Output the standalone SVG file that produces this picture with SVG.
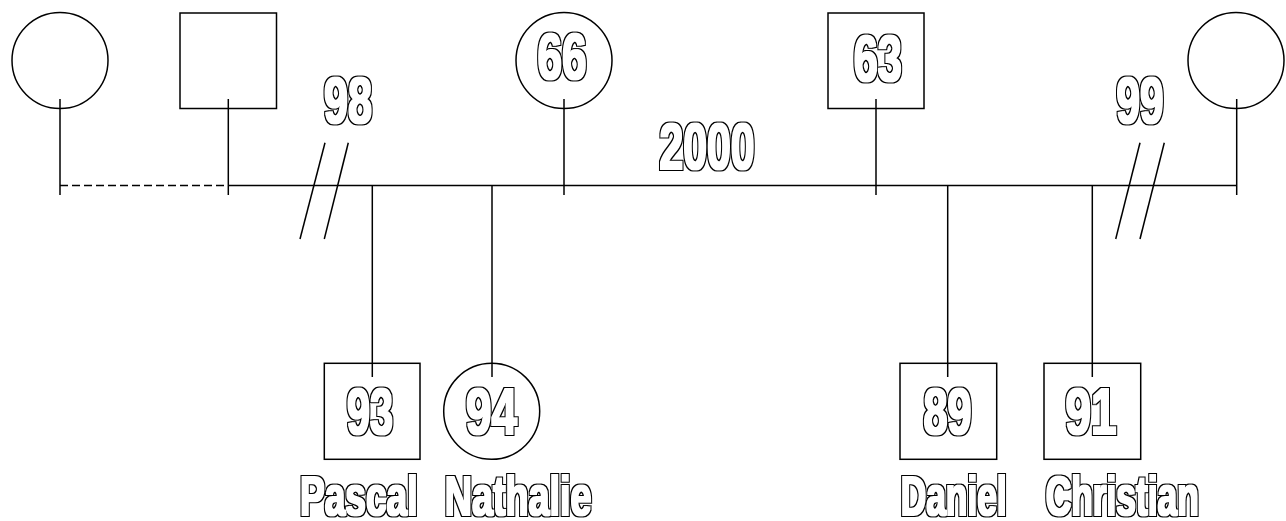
<svg xmlns="http://www.w3.org/2000/svg" width="1286" height="521" viewBox="0 0 1286 521">
<defs>
<filter id="outline" x="-10%" y="-10%" width="120%" height="120%" color-interpolation-filters="sRGB">
<feMorphology in="SourceAlpha" operator="dilate" radius="0.8" result="a"/>
<feMorphology in="SourceAlpha" operator="dilate" radius="2" result="b"/>
<feFlood flood-color="#ffffff"/>
<feComposite in2="a" operator="in" result="w"/>
<feFlood flood-color="#000000"/>
<feComposite in2="b" operator="in" result="k"/>
<feComposite in="w" in2="k" operator="over"/>
</filter>
</defs>
<style>
.n{fill:none;stroke:#000;stroke-width:1.5}
.c{fill:none;stroke:#000;stroke-width:1.5}
.t{font-family:"Liberation Sans",Arial,sans-serif;font-weight:bold;fill:#000;filter:url(#outline)}
.d{font-size:65px;text-anchor:middle}
.m{font-size:56px}
</style>
<rect width="1286" height="521" fill="#fff"/>
<g id="connectors">
<line class="c" x1="60" y1="185.5" x2="228" y2="185.5" stroke-dasharray="8,4"/>
<line class="c" x1="228" y1="185.5" x2="1237" y2="185.5"/>
<line class="c" x1="60" y1="99" x2="60" y2="195"/>
<line class="c" x1="228.3" y1="99" x2="228.3" y2="195"/>
<line class="c" x1="564" y1="99" x2="564" y2="195"/>
<line class="c" x1="876" y1="99" x2="876" y2="195"/>
<line class="c" x1="1236.7" y1="99" x2="1236.7" y2="195"/>
<line class="c" x1="372.3" y1="185.5" x2="372.3" y2="377"/>
<line class="c" x1="492" y1="185.5" x2="492" y2="377"/>
<line class="c" x1="947.7" y1="185.5" x2="947.7" y2="377"/>
<line class="c" x1="1092.3" y1="185.5" x2="1092.3" y2="377"/>
<line class="c" x1="325" y1="142.7" x2="300" y2="239"/>
<line class="c" x1="348.3" y1="142.7" x2="324.3" y2="239"/>
<line class="c" x1="1140" y1="142.7" x2="1115.7" y2="239"/>
<line class="c" x1="1164.3" y1="142.7" x2="1140" y2="239"/>
<text class="t d" x="348" y="123.3" textLength="48" lengthAdjust="spacingAndGlyphs">98</text>
<text class="t d" x="707" y="169.3" textLength="95" lengthAdjust="spacingAndGlyphs">2000</text>
<text class="t d" x="1140" y="123.3" textLength="47" lengthAdjust="spacingAndGlyphs">99</text>
</g>
<g id="node-left-female"><circle class="n" cx="60" cy="60.5" r="48"/></g>
<g id="node-left-male"><rect class="n" x="180" y="13" width="96.5" height="95.5"/></g>
<g id="node-66"><circle class="n" cx="564" cy="60.5" r="48"/><text class="t d" x="562" y="79.3" textLength="49" lengthAdjust="spacingAndGlyphs">66</text></g>
<g id="node-63"><rect class="n" x="828" y="13" width="96" height="95.5"/><text class="t d" x="877.8" y="80.5" textLength="48" lengthAdjust="spacingAndGlyphs">63</text></g>
<g id="node-right-female"><circle class="n" cx="1236" cy="60.5" r="48"/></g>
<g id="node-pascal"><rect class="n" x="324.3" y="363.3" width="95.7" height="96"/><text class="t d" x="370" y="434" textLength="46" lengthAdjust="spacingAndGlyphs">93</text><text class="t m" x="300" y="514.8" textLength="117.5" lengthAdjust="spacingAndGlyphs">Pascal</text></g>
<g id="node-nathalie"><circle class="n" cx="491.7" cy="411.3" r="48"/><text class="t d" x="491.5" y="434" textLength="51" lengthAdjust="spacingAndGlyphs">94</text><text class="t m" x="444.7" y="514.8" textLength="146.7" lengthAdjust="spacingAndGlyphs">Nathalie</text></g>
<g id="node-daniel"><rect class="n" x="900" y="363.3" width="96.7" height="96"/><text class="t d" x="947.5" y="434" textLength="48" lengthAdjust="spacingAndGlyphs">89</text><text class="t m" x="900.7" y="514.8" textLength="106" lengthAdjust="spacingAndGlyphs">Daniel</text></g>
<g id="node-christian"><rect class="n" x="1044" y="363.3" width="96.7" height="96"/><text class="t d" x="1091" y="434" textLength="51" lengthAdjust="spacingAndGlyphs">91</text><text class="t m" x="1045.7" y="514.8" textLength="153" lengthAdjust="spacingAndGlyphs">Christian</text></g>
</svg>
